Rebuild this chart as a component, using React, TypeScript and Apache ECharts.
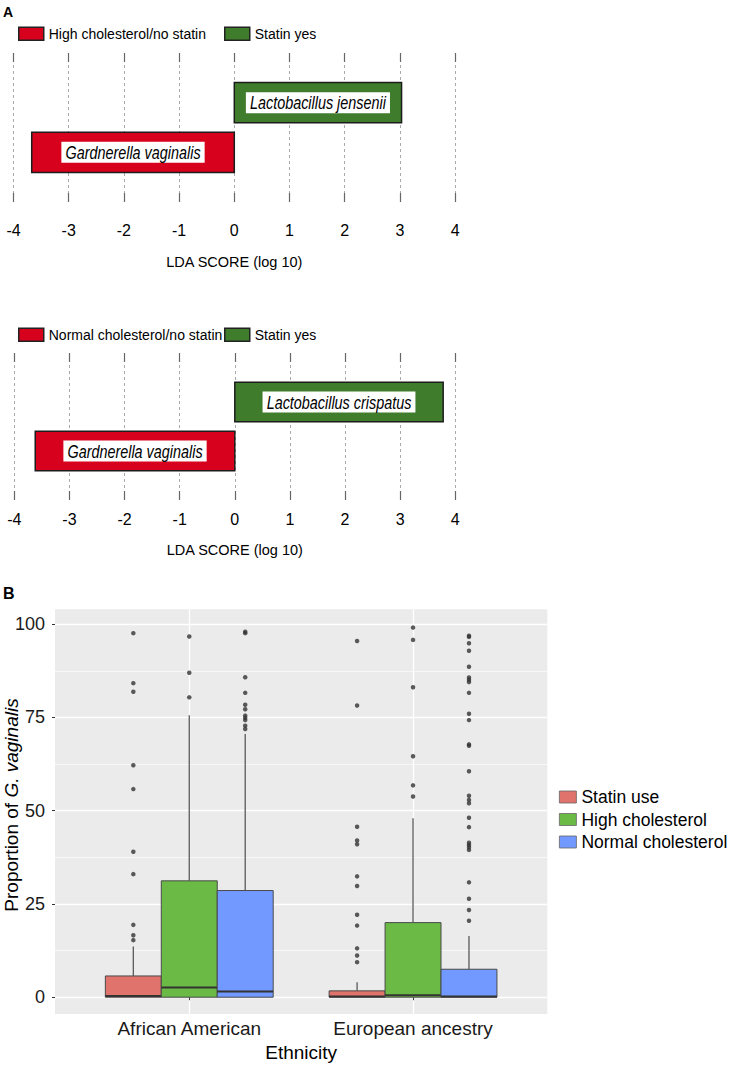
import React, { useEffect, useRef } from 'react';
import * as echarts from 'echarts';

// ---------- Panel A data (LEfSe LDA scores) ----------
const ldaTicks = [-4, -3, -2, -1, 0, 1, 2, 3, 4];
const ldaTopClasses = ['High cholesterol/no statin', 'Statin yes'];
const ldaTopTaxa = ['Gardnerella vaginalis', 'Lactobacillus jensenii'];
const ldaTopScores = [-3.67, 3.03];
const ldaBotClasses = ['Normal cholesterol/no statin', 'Statin yes'];
const ldaBotTaxa = ['Gardnerella vaginalis', 'Lactobacillus crispatus'];
const ldaBotScores = [-3.62, 3.78];
const ldaColors = ['#D7001D', '#3F7D2D'];

// ---------- Panel B data (box plots) ----------
const ethnicities = ['African American', 'European ancestry'];
const groups = ['Statin use', 'High cholesterol', 'Normal cholesterol'];
const groupColors = ['#E0736B', '#6BBA45', '#7299FF'];
const yTicks = [0, 25, 50, 75, 100];
const yMinorTicks = [12.5, 37.5, 62.5, 87.5];
// [lower whisker, Q1, median, Q3, upper whisker] for African American, European ancestry
const statinBoxes = [[0, 0, 0.3, 5.7, 13.6], [0, 0, 0.2, 1.7, 4.0]];
const highBoxes = [[0, 0, 2.6, 31.2, 75.6], [0, 0, 0.5, 20.0, 48.0]];
const normalBoxes = [[0, 0, 1.5, 28.6, 70.6], [0, 0, 0.2, 7.5, 16.4]];
const statinOutliers = [
  [97.6, 84.2, 81.9, 62.2, 55.8, 39.0, 33.0, 19.4, 16.6, 15.3],
  [95.5, 78.2, 45.7, 42.0, 41.0, 32.4, 29.8, 22.1, 19.2, 13.1, 11.2, 9.4],
];
const highOutliers = [
  [96.7, 87.0, 80.4],
  [99.1, 95.8, 83.1, 64.6, 56.8, 53.8],
];
const normalOutliers = [
  [98.0, 97.6, 85.8, 81.6, 78.4, 77.2, 75.5, 74.9, 74.3, 72.8, 71.9],
  [96.9, 96.6, 94.9, 92.9, 88.6, 85.7, 85.1, 84.5, 81.6, 76.0, 74.3, 67.8, 67.4, 60.6,
    54.0, 52.9, 52.0, 48.1, 45.6, 41.4, 40.8, 40.2, 39.5, 30.8, 26.4, 23.4, 20.5],
];

const SANS = '"Liberation Sans", Arial, Helvetica, sans-serif';

const BAR_H = 0.81;
const DODGE = [-0.25, 0, 0.25];
const HALF_BOX = 0.125;

function ldaSeries(classes: string[], taxa: string[], scores: number[], xAxisIndex: number, yAxisIndex: number) {
  return classes.map((cls, k) => ({
    type: 'custom',
    name: cls,
    xAxisIndex,
    yAxisIndex,
    itemStyle: { color: ldaColors[k] },
    data: [[scores[k], k + 1]],
    renderItem: (params: any, api: any) => {
      const v = api.value(0);
      const lvl = api.value(1);
      const a = api.coord([0, lvl]);
      const b = api.coord([v, lvl]);
      const h = api.size([0, BAR_H])[1];
      const x = Math.min(a[0], b[0]);
      const w = Math.abs(b[0] - a[0]);
      return {
        type: 'group',
        children: [
          {
            type: 'rect',
            shape: { x, y: a[1] - h / 2, width: w, height: h },
            style: { fill: ldaColors[k], stroke: '#1c1c1c', lineWidth: 1.5 },
          },
          {
            type: 'text',
            x: x + w / 2,
            y: a[1],
            scaleX: 0.8,
            style: {
              text: taxa[k],
              fontSize: 18,
              fontStyle: 'italic',
              fontFamily: SANS,
              fill: '#000',
              backgroundColor: '#fff',
              padding: [2, 5, 1, 5],
              align: 'center',
              verticalAlign: 'middle',
            },
          },
        ],
      };
    },
  }));
}

function boxSeries(gi: number, boxes: number[][]) {
  return {
    type: 'custom',
    name: groups[gi],
    xAxisIndex: 4,
    yAxisIndex: 2,
    itemStyle: { color: groupColors[gi] },
    data: boxes.map((b, i) => [i + 1, ...b]),
    renderItem: (params: any, api: any) => {
      const c = api.value(0) + DODGE[gi];
      const lo = api.value(1), q1 = api.value(2), med = api.value(3), q3 = api.value(4), hi = api.value(5);
      const pTL = api.coord([c - HALF_BOX, q3]);
      const pBR = api.coord([c + HALF_BOX, q1]);
      const pHi = api.coord([c, hi]);
      const pLo = api.coord([c, lo]);
      const yMed = api.coord([c, med])[1];
      const ws = { stroke: '#5a5a5a', lineWidth: 1.3 };
      return {
        type: 'group',
        children: [
          { type: 'line', shape: { x1: pHi[0], y1: pHi[1], x2: pHi[0], y2: pTL[1] }, style: ws },
          { type: 'line', shape: { x1: pLo[0], y1: pBR[1], x2: pLo[0], y2: pLo[1] }, style: ws },
          {
            type: 'rect',
            shape: { x: pTL[0], y: pTL[1], width: pBR[0] - pTL[0], height: pBR[1] - pTL[1] },
            style: { fill: groupColors[gi], stroke: '#4a4a4a', lineWidth: 1 },
          },
          {
            type: 'line',
            shape: { x1: pTL[0], y1: yMed, x2: pBR[0], y2: yMed },
            style: { stroke: '#333', lineWidth: 2 },
          },
        ],
      };
    },
  };
}

function outlierSeries(gi: number, outs: number[][]) {
  const data: number[][] = [];
  outs.forEach((list, i) => list.forEach((v) => data.push([i + 1 + DODGE[gi], v])));
  return {
    type: 'scatter',
    name: groups[gi] + ' outliers',
    xAxisIndex: 4,
    yAxisIndex: 2,
    symbol: 'circle',
    symbolSize: 4.5,
    itemStyle: { color: '#333' },
    silent: true,
    data,
  };
}

function ldaXAxis(gridIndex: number, margin: number, nameGap: number) {
  return {
    type: 'value',
    gridIndex,
    min: ldaTicks[0],
    max: ldaTicks[ldaTicks.length - 1],
    interval: 1,
    axisLine: { show: false },
    axisTick: { show: true, inside: true, length: 9, lineStyle: { color: '#666', width: 1.2 } },
    axisLabel: { fontSize: 16, fontFamily: SANS, color: '#000', margin },
    splitLine: { show: true, lineStyle: { color: '#aaa', width: 1, type: [3, 3] } },
    name: 'LDA SCORE (log 10)',
    nameLocation: 'middle',
    nameGap,
    nameTextStyle: { fontSize: 14.5, fontFamily: SANS, color: '#000' },
  };
}

function ldaTopAxis(gridIndex: number) {
  return {
    type: 'value',
    gridIndex,
    position: 'top',
    min: ldaTicks[0],
    max: ldaTicks[ldaTicks.length - 1],
    interval: 1,
    axisLine: { show: false },
    axisTick: { show: true, inside: true, length: 9, lineStyle: { color: '#666', width: 1.2 } },
    axisLabel: { show: false },
    splitLine: { show: false },
  };
}

function smallLegend(name: string, left: number, top: number) {
  return {
    data: [name],
    left,
    top,
    padding: 0,
    icon: 'rect',
    itemWidth: 25,
    itemHeight: 13,
    selectedMode: false,
    itemStyle: { borderColor: '#222', borderWidth: 1.5 },
    textStyle: { fontSize: 14, fontFamily: SANS, color: '#000' },
  };
}

const option: any = {
  animation: false,
  backgroundColor: '#fff',
  graphic: [
    { type: 'text', left: 3, top: 5, style: { text: 'A', fontSize: 14, fontWeight: 'bold', fontFamily: SANS, fill: '#000' } },
    { type: 'text', left: 3, top: 585, style: { text: 'B', fontSize: 16, fontWeight: 'bold', fontFamily: SANS, fill: '#000' } },
    {
      type: 'text',
      x: 11.5,
      y: 805,
      rotation: Math.PI / 2,
      style: {
        text: '{a|Proportion of }{b|G. vaginalis}',
        align: 'center',
        verticalAlign: 'middle',
        fill: '#000',
        rich: {
          a: { fontSize: 19, fontFamily: SANS, fill: '#000' },
          b: { fontSize: 19, fontFamily: SANS, fontStyle: 'italic', fill: '#000' },
        },
      },
    },
  ],
  legend: [
    smallLegend(ldaTopClasses[0], 18, 26.5),
    smallLegend(ldaTopClasses[1], 224, 26.5),
    smallLegend(ldaBotClasses[0], 18, 327.5),
    smallLegend(ldaBotClasses[1], 224, 327.5),
    {
      data: groups,
      orient: 'vertical',
      left: 559,
      top: 788,
      padding: 0,
      icon: 'rect',
      itemWidth: 17,
      itemHeight: 12,
      itemGap: 4.5,
      selectedMode: false,
      itemStyle: { borderColor: '#666', borderWidth: 0.8 },
      textStyle: { fontSize: 17.5, fontFamily: SANS, color: '#000' },
    },
  ],
  grid: [
    { left: 13.5, top: 53, width: 441.6, height: 149, outerBoundsMode: 'none' },
    { left: 14.3, top: 353, width: 441, height: 147, outerBoundsMode: 'none' },
    {
      left: 55, top: 609.3, width: 492.3, height: 404.7, show: true,
      backgroundColor: '#EBEBEB', borderWidth: 0, outerBoundsMode: 'none',
    },
  ],
  xAxis: [
    ldaXAxis(0, 20, 52),
    ldaTopAxis(0),
    ldaXAxis(1, 11, 42.5),
    ldaTopAxis(1),
    {
      type: 'value',
      gridIndex: 2,
      min: 0.4,
      max: 2.6,
      axisLine: { show: false },
      axisTick: { show: true, length: 3, customValues: [1, 2], lineStyle: { color: '#333' } },
      axisLabel: {
        customValues: [1, 2],
        formatter: (v: number) => ethnicities[Math.round(v) - 1],
        fontSize: 19,
        fontFamily: SANS,
        color: '#1a1a1a',
        margin: 5,
      },
      splitLine: { show: true, lineStyle: { color: '#fff', width: 1.3 } },
      name: 'Ethnicity',
      nameLocation: 'middle',
      nameGap: 29,
      nameTextStyle: { fontSize: 19, fontFamily: SANS, color: '#000' },
    },
  ],
  yAxis: [
    { type: 'value', gridIndex: 0, min: 0, max: 3, show: false },
    { type: 'value', gridIndex: 1, min: 0, max: 3, show: false },
    {
      type: 'value',
      gridIndex: 2,
      min: -4.5,
      max: 104,
      axisLine: { show: false },
      axisTick: { show: true, length: 3, customValues: yTicks, lineStyle: { color: '#333' } },
      axisLabel: { customValues: yTicks, fontSize: 18, fontFamily: SANS, color: '#1a1a1a', margin: 10 },
      splitLine: { show: true, lineStyle: { color: '#fff', width: 1.3 } },
    },
    {
      type: 'value',
      gridIndex: 2,
      min: -4.5,
      max: 104,
      position: 'left',
      axisLine: { show: false },
      axisTick: { show: false, customValues: yMinorTicks },
      axisLabel: { show: false },
      splitLine: { show: true, lineStyle: { color: '#fff', width: 0.6 } },
    },
  ],
  series: [
    ...ldaSeries(ldaTopClasses, ldaTopTaxa, ldaTopScores, 0, 0),
    ...ldaSeries(ldaBotClasses, ldaBotTaxa, ldaBotScores, 2, 1),
    boxSeries(0, statinBoxes),
    boxSeries(1, highBoxes),
    boxSeries(2, normalBoxes),
    outlierSeries(0, statinOutliers),
    outlierSeries(1, highOutliers),
    outlierSeries(2, normalOutliers),
  ],
};

export default function App() {
  const ref = useRef<HTMLDivElement>(null);
  useEffect(() => {
    if (!ref.current) return;
    const chart = echarts.init(ref.current, null, { renderer: 'svg' });
    chart.setOption(option);
    return () => chart.dispose();
  }, []);
  return (
    <div
      ref={ref}
      style={{ position: 'absolute', left: 0, top: 0, width: 729, height: 1066, background: '#fff' }}
    />
  );
}
